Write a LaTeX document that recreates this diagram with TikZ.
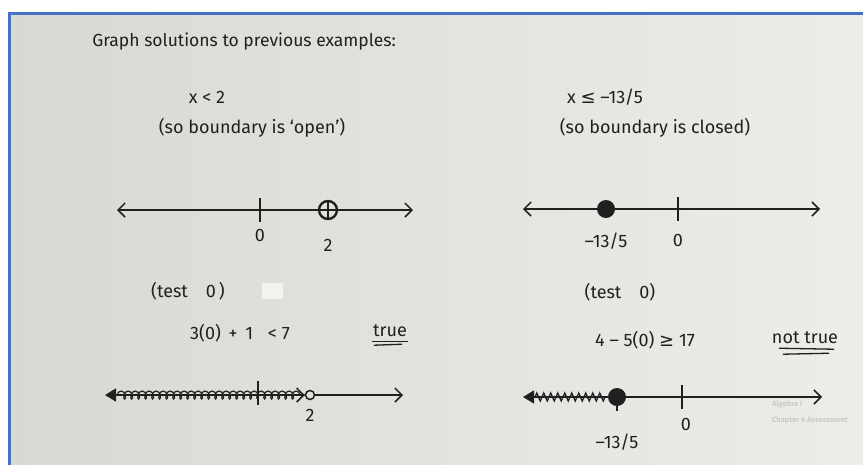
\documentclass[tikz,border=0pt]{standalone}
\usepackage{fontspec}
\setmainfont{Fira Sans}
\newfontfamily\symfont{DejaVu Sans}
\usetikzlibrary{positioning,arrows.meta,decorations.pathmorphing}

\definecolor{paperl}{HTML}{DAD8D3}
\definecolor{paperr}{HTML}{EEEDE9}
\definecolor{frameblue}{HTML}{4472C4}
\definecolor{ink}{HTML}{202020}
\definecolor{ghost}{HTML}{CCCAC5}

\tikzset{
  hand/.style={font=\fontsize{18}{21}\selectfont, text=ink, inner sep=1pt},
  numline/.style={draw=ink, line width=1.5pt},
  barbs/.style={{Straight Barb[length=7pt,width=14pt]}-{Straight Barb[length=7pt,width=14pt]}},
  fillarrow/.style={{Triangle[length=11pt,width=13pt]}-{Straight Barb[length=7pt,width=14pt]}},
  tickmark/.style={draw=ink, line width=1.5pt},
  opendot/.style={circle, draw=ink, line width=2.4pt, minimum size=18pt, inner sep=0pt},
  smalldot/.style={circle, draw=ink, line width=1.5pt, minimum size=9pt, inner sep=0pt},
  closeddot/.style={circle, fill=ink, minimum size=18pt, inner sep=0pt},
  underl/.style={draw=ink, line width=1.3pt},
  showthrough/.style={text=ghost, font=\fontsize{7.5}{9}\bfseries\selectfont, anchor=west, inner sep=0pt}
}

\begin{document}
\begin{tikzpicture}[x=1pt,y=-1pt]
\useasboundingbox (0,0) rectangle (863,464);
\fill[white] (0,0) rectangle (863,464);
\shade[left color=paperl,right color=paperr] (9,13.5) rectangle (880,480);
\draw[frameblue, line width=3pt] (9,13.5) rectangle (880,480);
\fill[white!35!paperr] (262,283) rectangle (283,299);

% headings
\node[hand, font=\fontsize{17.5}{21}\selectfont] (title) at (244,42) {Graph solutions to previous examples:};
\node[hand] (ineqa) at (207,97) {x < 2};
\node[hand] (ineqb) at (605,97) {x {\symfont ≤} –13/5};
\node[hand] (opena) at (252,128) {(so boundary is ‘open’)};
\node[hand] (closedb) at (655,128) {(so boundary is closed)};

% first number lines
\coordinate (la) at (117,210);
\coordinate (ra) at (413,210);
\coordinate (ta) at (260,210);
\node[opendot] (ca) at (328,210) {};
\draw[numline,barbs] (la) -- (ra);
\draw[tickmark] ([yshift=12pt]ta) -- ([yshift=-12pt]ta);
\draw[tickmark] (ca.north) -- (ca.south);
\node[hand, below=18pt of ta] (zeroa) {0};
\node[hand, below=18pt of ca] (twoa) {2};

\coordinate (lb) at (523,209);
\coordinate (rb) at (820,209);
\coordinate (tb) at (678,209);
\node[closeddot] (db) at (606,209) {};
\draw[numline,barbs] (lb) -- (rb);
\draw[tickmark] ([yshift=12pt]tb) -- ([yshift=-12pt]tb);
\node[hand, below=14pt of db] (fracb) {–13/5};
\node[hand, below=24pt of tb] (zerob) {0};

% test points
\node[hand] (testa) at (188,291) {(test\quad 0\,)};
\node[hand] (testb) at (620,292) {(test\quad 0)};
\node[hand] (checka) at (240,333) {3(0)\, + \,1\;\; < 7};
\node[hand] (truea) at (390,331) {true};
\draw[underl] ([yshift=-3pt]truea.south west) -- ([yshift=-3pt]truea.south east);
\draw[underl] ([yshift=-7pt,xshift=2pt]truea.south west) -- ([yshift=-6pt,xshift=-6pt]truea.south east);
\node[hand] (checkb) at (645,340) {4 – 5(0) {\symfont ≥} 17};
\node[hand] (falseb) at (805,338) {not true};
\draw[underl] ([yshift=-3pt,xshift=8pt]falseb.south west) -- ([yshift=-4pt,xshift=-5pt]falseb.south east);
\draw[underl] ([yshift=-9pt,xshift=12pt]falseb.south west) -- ([yshift=-8pt,xshift=-10pt]falseb.south east);

% solution sets
\coordinate (lc) at (105,395);
\coordinate (rc) at (403,395);
\coordinate (tc) at (258,395);
\node[smalldot] (cc) at (310,395) {};
\draw[numline,fillarrow] (lc) -- (cc.west);
\draw[numline,-{Straight Barb[length=7pt,width=14pt]}] (cc.east) -- (rc);
\draw[ink, line width=1.2pt, decorate, decoration={coil, aspect=0.6, segment length=7pt, amplitude=4pt}] ([xshift=12pt]lc) -- (cc.west);
\draw[tickmark] ([yshift=14pt]tc) -- ([yshift=-10pt]tc);
\node[hand, below=8pt of cc] (twoc) {2};

\coordinate (ld) at (523,397);
\coordinate (rd) at (822,397);
\coordinate (td) at (682,397);
\node[closeddot] (dd) at (617,397) {};
\draw[numline,fillarrow] (ld) -- (rd);
\draw[ink, line width=1.3pt, decorate, decoration={zigzag, segment length=7pt, amplitude=4pt}] ([xshift=12pt]ld) -- (dd.west);
\draw[tickmark] ([yshift=12pt]td) -- ([yshift=-12pt]td);
\draw[tickmark] (dd.center) -- ([yshift=-14pt]dd.center);
\node[hand, below=20pt of td, xshift=4pt] (zerod) {0};
\node[hand, below=27pt of dd] (fracd) {–13/5};

% show-through from the back of the page
\node[showthrough] (ghosta) at (772,404) {Algebra I};
\node[showthrough] (ghostb) at (772,420) {Chapter 6 Assessment};
\end{tikzpicture}
\end{document}
